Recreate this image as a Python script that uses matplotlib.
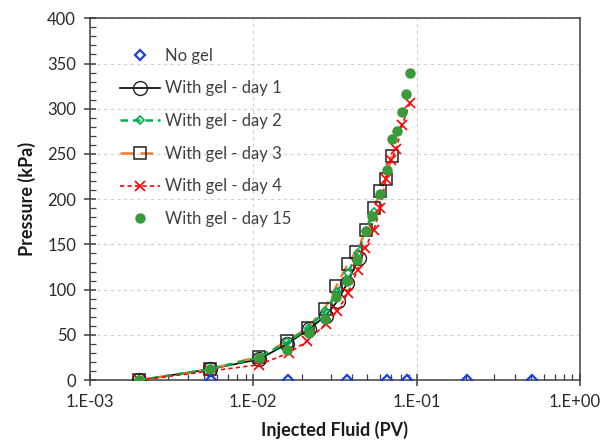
import matplotlib
matplotlib.use("Agg")
import matplotlib.pyplot as plt
import matplotlib.transforms as mtransforms
from matplotlib.ticker import FixedLocator, FuncFormatter, LogLocator, MultipleLocator, NullFormatter

plt.rcParams["font.family"] = ["Lato", "DejaVu Sans"]

# values
no_gel_x = [0.0055, 0.0163, 0.0376, 0.0655, 0.087, 0.203, 0.508]
no_gel_y = [0, 0, 0, 0, 0, 0, 0]

day1_x = [0.002, 0.0054, 0.0108, 0.0161, 0.0218, 0.0277, 0.0330, 0.0376, 0.0443]
day1_y = [0, 12, 23, 40, 56, 71, 88, 107, 135]

day2_x = [0.002, 0.0054, 0.0108, 0.0162, 0.0218, 0.0275, 0.0325, 0.0378, 0.0435, 0.0490, 0.0545]
day2_y = [0, 12, 25, 42, 58, 76, 97, 118, 140, 165, 186]

day3_x = [0.002, 0.0054, 0.0108, 0.0162, 0.0215, 0.0274, 0.0323, 0.0378, 0.0428,
          0.0491, 0.0547, 0.0601, 0.0646, 0.0703]
day3_y = [0, 12, 26, 43, 58, 79, 104, 128, 142, 166, 190, 209, 222, 248]

day4_x = [0.002, 0.0054, 0.0108, 0.0165, 0.0213, 0.0277, 0.0326, 0.0379, 0.0436,
          0.0484, 0.0547, 0.0601, 0.0648, 0.0700, 0.0753, 0.0817, 0.0910]
day4_y = [0, 10, 17, 30, 43, 62, 76, 96, 122, 146, 166, 190, 222, 243, 256, 282, 306]

day15_x = [0.002, 0.0054, 0.0108, 0.0162, 0.0219, 0.0274, 0.0323, 0.0376, 0.0433,
           0.0487, 0.0536, 0.0594, 0.0655, 0.0712, 0.0764, 0.0815, 0.0866, 0.0918]
day15_y = [0, 12, 24, 33, 52, 68, 92, 110, 133, 165, 182, 206, 232, 267, 275, 296, 316, 340]

x_ticks = [1e-3, 1e-2, 1e-1, 1e0]
x_tick_labels = ["1.E-03", "1.E-02", "1.E-01", "1.E+00"]

fig = plt.figure(figsize=(6.04, 4.41), dpi=100)
ax = fig.add_axes([0.149, 0.138, 0.811, 0.8205])

ax.plot(no_gel_x, no_gel_y, ls="none", marker="D", ms=5.5, mfc="none",
        mec="#1a3fe0", mew=1.6, label="No gel", zorder=6)
ax.plot(day1_x, day1_y, color="black", lw=1.2, marker="o", ms=10, mfc="none",
        mec="#222222", mew=1.0, label="With gel - day 1", zorder=3)
ax.plot(day2_x, day2_y, color="#00b050", lw=1.8, ls=(0, (3, 2)), marker="D", ms=4.5,
        mfc="none", mec="#00b050", mew=1.2, label="With gel - day 2", zorder=4)
ax.plot(day3_x, day3_y, color="#ed7d31", lw=1.8, ls=(0, (5, 3)), marker="s", ms=8,
        mfc="none", mec="#222222", mew=1.1, label="With gel - day 3", zorder=3)
ax.plot(day4_x, day4_y, color="red", lw=1.2, ls=(0, (2.5, 2)), marker="x", ms=6.5,
        mec="red", mew=1.2, label="With gel - day 4", zorder=4)
ax.plot(day15_x, day15_y, ls="none", marker="o", ms=6.5, mfc="#3a9a3a",
        mec="#3a9a3a", label="With gel - day 15", zorder=5)

ax.set_xscale("log")
ax.set_xlim(1e-3, 1e0)
ax.set_ylim(0, 400)

ax.xaxis.set_major_locator(FixedLocator(x_ticks))
ax.xaxis.set_major_formatter(FuncFormatter(lambda v, p: x_tick_labels[x_ticks.index(v)] if v in x_ticks else ""))
ax.xaxis.set_minor_locator(LogLocator(base=10, subs=range(2, 10)))
ax.xaxis.set_minor_formatter(NullFormatter())
ax.yaxis.set_major_locator(MultipleLocator(50))
ax.yaxis.set_minor_locator(MultipleLocator(10))

ax.tick_params(which="major", direction="inout", length=8, width=1.1, color="#404040",
               labelsize=12, labelcolor="#2a2a2a", pad=6)
ax.tick_params(which="minor", direction="in", length=4, width=0.9, color="#404040")
ax.tick_params(top=False, right=False, which="both")

for s in ax.spines.values():
    s.set_color("#404040")
    s.set_linewidth(1.1)

ax.grid(True, which="major", ls=(0, (3, 3)), color="#d0d0d0", lw=0.8)
ax.set_axisbelow(True)

ax.set_xlabel("Injected Fluid (PV)", fontsize=13, fontweight="bold", color="#1a1a1a", labelpad=8)
ax.set_ylabel("Pressure (kPa)", fontsize=13, fontweight="bold", color="#1a1a1a", labelpad=8)

ax.legend(loc="upper left", bbox_to_anchor=(0.03, 0.96), frameon=False, fontsize=12,
          labelcolor="#404040", handlelength=2.4, handletextpad=0.3, labelspacing=1.0)

# the last tick label sits at the right edge of the figure; nudge it inwards
fig.canvas.draw()
last = ax.get_xticklabels()[-1]
last.set_transform(last.get_transform() + mtransforms.ScaledTranslation(-4 / 72, 0, fig.dpi_scale_trans))

fig.savefig("out.png", dpi=100)
